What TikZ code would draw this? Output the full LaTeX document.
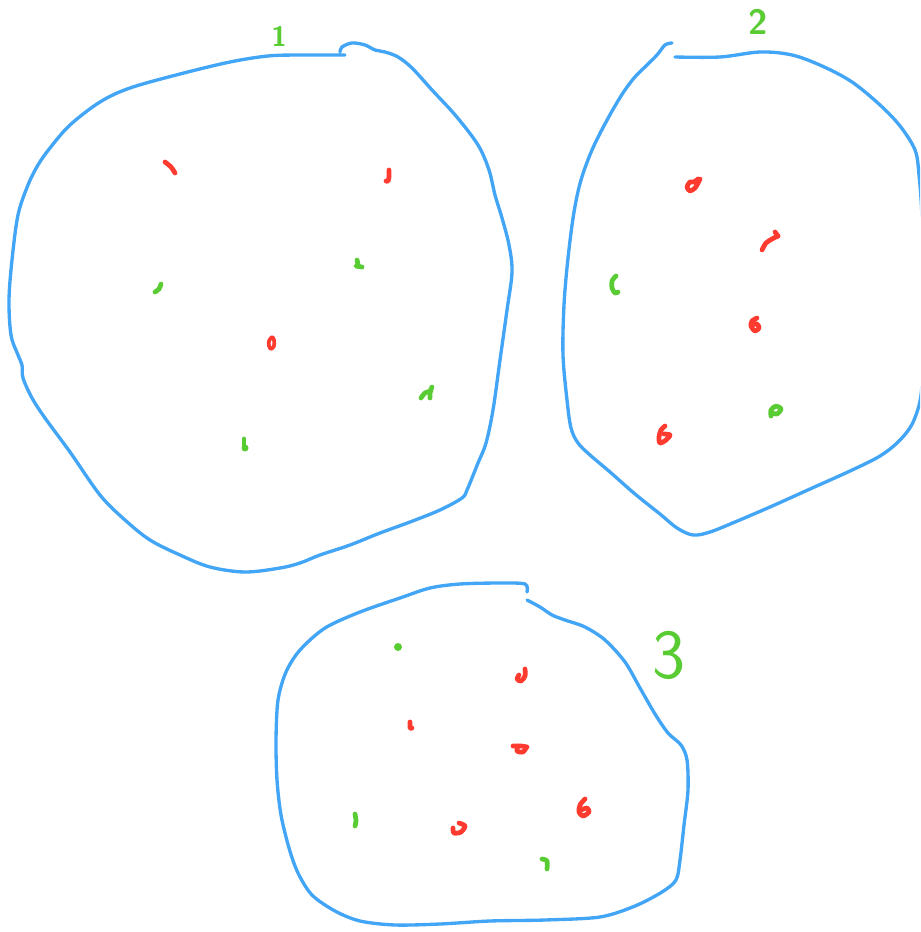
\documentclass[tikz,border=0pt]{standalone}
\usepackage{tikz}
\usepackage{xcolor}
\definecolor{skyblue}{RGB}{66,165,245}
\definecolor{penred}{RGB}{255,59,48}
\definecolor{pengreen}{RGB}{88,204,50}

\begin{document}
\begin{tikzpicture}[
        x=0.02cm, y=-0.02cm,
        % styles des traits
        blob/.style={draw=skyblue, line width=1.9pt, line cap=round, line join=round},
        redmark/.style={draw=penred, line width=2.7pt, line cap=round, line join=round},
        greenmark/.style={draw=pengreen, line width=2.7pt, line cap=round, line join=round},
        tag/.style={text=pengreen, inner sep=0pt},
    ]

        \clip (0,0) rectangle (920,932);

        %% ── Contour 1 ──
        \draw[blob] plot[smooth, tension=0.55] coordinates {
            (345,55) (300,55) (268,56) (230,62) (180,74) (130,88) (100,102)
            (70,125) (50,148) (38,165) (28,185) (18,215) (12,260) (9,300)
            (11,335) (18,355) (22,365) (23,378) (32,398) (45,418) (70,452)
            (100,495) (125,520) (150,540) (180,555) (210,567) (245,572)
            (280,568) (300,563) (320,555) (350,545) (380,533) (410,522)
            (440,510) (462,498) (467,490) (472,478) (478,463) (486,443)
            (493,410) (500,360) (507,310) (512,272) (509,245) (502,218)
            (495,195) (489,170) (478,145) (456,116) (432,90) (412,68)
            (398,57) (385,52) (375,50) (365,45) (352,43) (342,47) (340,52)};

        %% ── Contour 2 ──
        \draw[blob] plot[smooth, tension=0.55] coordinates {
            (675,57) (720,57) (760,52) (792,55) (822,66) (852,82) (880,105)
            (900,126) (915,150) (919,175) (922,220) (922,300) (922,385)
            (914,420) (900,440) (880,456) (850,471) (810,489) (770,507)
            (735,522) (710,532) (693,535) (677,528) (660,514) (635,494)
            (610,472) (590,455) (578,443) (571,428) (567,400) (563,355)
            (564,305) (568,258) (574,212) (581,180) (592,150) (606,122)
            (621,96) (634,78) (647,65) (657,55) (665,45) (672,43)};

        %% ── Contour 3 ──
        \draw[blob] plot[smooth, tension=0.5] coordinates {
            (527,592) (525,584) (500,583) (460,584) (430,588) (400,598)
            (360,612) (325,628) (300,650) (286,672) (278,700) (276,740)
            (277,780) (281,815) (289,848) (298,873) (312,895) (335,911)
            (360,921) (395,925) (440,924) (490,921) (545,920) (600,917)
            (635,906) (662,892) (676,880) (680,860) (684,825) (688,790)
            (687,760) (681,745) (668,733) (655,714) (640,688) (625,662)
            (605,640) (585,627) (565,620) (552,615) (540,607) (527,600)};

        %% ── Points du contour 1 ──
        \draw[redmark] plot[smooth] coordinates {(165,162) (171,167) (175,173)};
        \draw[redmark] plot[smooth] coordinates {(389,170) (389,177) (388,181) (386,181)};
        \draw[greenmark] plot[smooth] coordinates {(357,260) (358,265) (356,266) (362,267)};
        \draw[greenmark] plot[smooth] coordinates {(161,284) (159,289) (155,292)};
        \draw[redmark, line width=2.1pt] plot[smooth cycle] coordinates {(272,337) (274,340) (274,346) (271,349) (269,346) (269,341)};
        \draw[greenmark] plot[smooth] coordinates {(432,387) (430,392) (430,398)};
        \draw[greenmark] plot[smooth] coordinates {(431,391) (425,393) (421,398)};
        \draw[greenmark] (244,439) -- (244,447);
        \fill[pengreen] (245,448) circle [radius=3.5];

        %% ── Points du contour 2 ──
        \draw[redmark] plot[smooth] coordinates {(698,179) (694,182) (690,182) (687,187) (690,191) (695,188) (698,183) (700,179)};
        \draw[redmark] plot[smooth] coordinates {(762,250) (766,243) (772,239) (778,236)};
        \draw[redmark] (775,232) -- (778,236);
        \draw[greenmark] plot[smooth] coordinates {(616,276) (612,281) (612,288) (615,293) (618,292)};
        \draw[redmark] plot[smooth] coordinates {(757,318) (752,321) (751,326) (755,331) (759,328) (757,324) (752,325)};
        \draw[greenmark] plot[smooth] coordinates {(771,416) (771,410) (776,406) (781,409) (777,414) (772,413)};
        \draw[redmark] plot[smooth] coordinates {(665,426) (661,430) (659,437) (660,443) (666,440) (670,435) (664,434)};

        %% ── Points du contour 3 ──
        \fill[pengreen] (398,647) circle [radius=4];
        \draw[redmark] plot[smooth] coordinates {(525,669) (525,676) (521,681) (517,679) (519,675)};
        \draw[redmark] plot[smooth] coordinates {(410,722) (410,728) (412,728)};
        \draw[redmark] plot[smooth] coordinates {(513,746) (521,746) (527,747)};
        \draw[redmark] plot[smooth] coordinates {(518,746) (517,751) (523,752) (526,748)};
        \draw[greenmark] plot[smooth] coordinates {(355,814) (356,821) (355,826)};
        \draw[redmark] plot[smooth] coordinates {(459,823) (465,826) (461,832) (454,833) (453,828)};
        \draw[redmark] plot[smooth] coordinates {(585,799) (580,805) (579,812) (583,816) (589,812) (587,808) (581,810)};
        \draw[greenmark] plot[smooth] coordinates {(542,859) (547,861) (547,869)};

        %% ── Numéros ──
        \node[tag, font=\sffamily\bfseries\fontsize{16}{16}\selectfont] (lab1) at (279,36) {1};
        \node[tag, font=\sffamily\bfseries\fontsize{20}{20}\selectfont] (lab2) at (758,22) {2};
        \node[tag, font=\sffamily\fontsize{40}{40}\selectfont] (lab3) at (669,655) {3};

    \end{tikzpicture}
\end{document}
